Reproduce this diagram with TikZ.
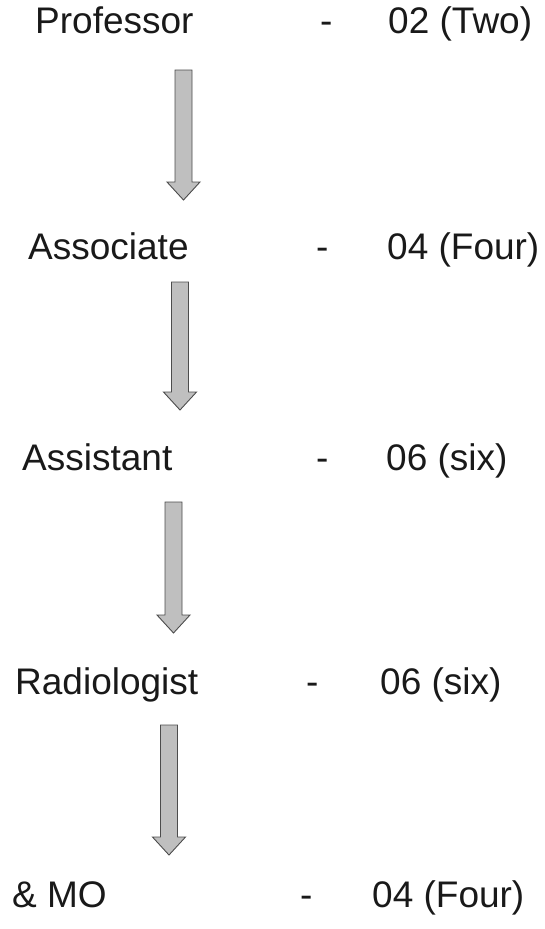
\documentclass[tikz,border=0pt]{standalone}
\usepackage{fontspec}
\setmainfont{Liberation Sans}
\begin{document}
\begin{tikzpicture}[x=1pt,y=-1pt,
  lbl/.style={anchor=base west, inner sep=0pt, font=\fontsize{37}{44}\selectfont, text=black!90},
  flowarrow/.style={draw=black!70, fill=black!25, line width=0.9pt, line join=miter}]
\newcommand{\downflow}[2]{%
  \draw[flowarrow, shift={(#1)}] (-8.5,0) -- (8.5,0) -- (8.5,#2-18) -- (16.5,#2-18) -- (0,#2) -- (-16.5,#2-18) -- (-8.5,#2-18) -- cycle;}
\useasboundingbox (0,0) rectangle (545,929);
% left column
\node[lbl] (prof) at (35,33) {Professor};
\node[lbl] (assoc) at (28,259) {Associate};
\node[lbl] (assist) at (22,470) {Assistant};
\node[lbl] (radio) at (15,694) {Radiologist};
\node[lbl] (mo) at (12,907) {\& MO};
% dashes
\node[lbl] (d1) at (320,33) {-};
\node[lbl] (d2) at (316,259) {-};
\node[lbl] (d3) at (316,470) {-};
\node[lbl] (d4) at (306,694) {-};
\node[lbl] (d5) at (300,907) {-};
% numbers
\node[lbl] (n1) at (388,33) {02 (Two)};
\node[lbl] (n2) at (387,259) {04 (Four)};
\node[lbl] (n3) at (386,470) {06 (six)};
\node[lbl] (n4) at (380,694) {06 (six)};
\node[lbl] (n5) at (372,907) {04 (Four)};
% arrows
\coordinate (a1) at (183.5,70);
\coordinate (a2) at (180,282);
\coordinate (a3) at (173.5,502);
\coordinate (a4) at (169,725);
\downflow{a1}{130}
\downflow{a2}{128}
\downflow{a3}{131}
\downflow{a4}{130}
\end{tikzpicture}
\end{document}
